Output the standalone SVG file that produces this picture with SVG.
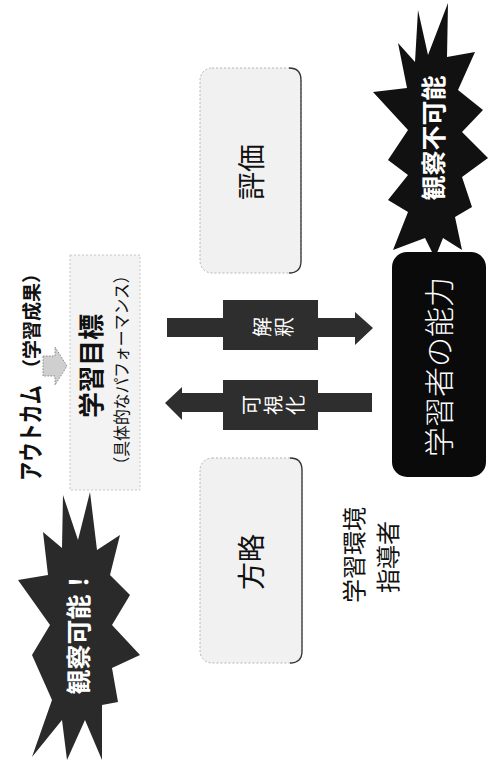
<svg xmlns="http://www.w3.org/2000/svg" width="489" height="764" viewBox="0 0 489 764">
<style>
text{font-family:"Noto Sans CJK JP","Noto Sans CJK SC",sans-serif;text-anchor:middle;dominant-baseline:central}
.box{fill:#f1f1f1;stroke:#b5b5b5;stroke-width:1;stroke-dasharray:2 2}
.edge{fill:none;stroke:#333;stroke-width:1.3}
.lbl{font-size:28px;fill:#111}
.arrow{fill:#2e2e2e}
.alab{font-size:20px;fill:#fff}
.burst-t{font-size:25px;font-weight:700;fill:#fff}
</style>
<rect width="489" height="764" fill="#fff"/>

<g id="burst-top">
<polygon fill="#111" points="418,10 428,55 448,3 447,57 475,52 458,90 483,110 462,132 488,158 462,177 472,207 455,217 462,250 443,238 435,258 425,238 393,250 408,212 388,200 408,175 388,160 408,130 373,92 407,88 398,43 415,62"/>
<text class="burst-t" transform="translate(432,138) rotate(-90)">観察不可能</text>
</g>

<g id="hyoka">
<rect class="box" x="200" y="68" width="101" height="205" rx="12"/>
<path class="edge" d="M289,68 Q301,68 301,80 V261 Q301,273 289,273"/>
<text class="lbl" transform="translate(250,172) rotate(-90)">評価</text>
</g>

<g id="houryaku">
<rect class="box" x="200" y="458" width="102" height="205" rx="12"/>
<path class="edge" d="M290,458 Q302,458 302,470 V651 Q302,663 290,663"/>
<text class="lbl" transform="translate(250,562) rotate(-90)">方略</text>
</g>

<g id="learner">
<rect x="392" y="252" width="94" height="225" rx="15" fill="#0a0a0a"/>
<text transform="translate(437,367) rotate(-90)" font-size="30" font-weight="300" fill="#fff">学習者の能力</text>
</g>

<g id="outcome">
<rect x="70" y="255" width="70" height="235" fill="#f3f3f3" stroke="#c8c8c8" stroke-dasharray="2 2"/>
<text transform="translate(29,433) rotate(-90)" font-size="25" font-weight="700" fill="#111" textLength="96" lengthAdjust="spacingAndGlyphs">アウトカム</text>
<text transform="translate(30,321) rotate(-90)" font-size="19" font-weight="700" fill="#111">（学習成果）</text>
<polygon points="43,356 55,356 55,347 67,366 55,385 55,376 43,376" fill="#cfcfcf" stroke="#888" stroke-width="1" stroke-dasharray="1.5 1.5"/>
<text transform="translate(89,366) rotate(-90)" font-size="26" font-weight="700" fill="#111">学習目標</text>
<text transform="translate(120,370) rotate(-90)" font-size="17" fill="#111" textLength="205" lengthAdjust="spacingAndGlyphs">（具体的なパフォーマンス）</text>
</g>

<g id="burst-bottom">
<polygon fill="#2a2a2a" points="63,495 78,540 90,492 97,550 120,535 110,575 130,595 112,625 140,655 112,668 118,702 102,705 102,760 85,720 67,760 62,720 32,757 52,700 32,655 50,625 18,580 48,575 43,532 62,548"/>
<text class="burst-t" font-size="24" transform="translate(77,632) rotate(-90)">観察可能！</text>
</g>

<g id="environment">
<text transform="translate(352,555) rotate(-90)" font-size="24" fill="#111">学習環境</text>
<text transform="translate(386,557) rotate(-90)" font-size="24" fill="#111">指導者</text>
</g>

<g id="connectors">
<g id="arrow-kaishaku">
<polygon class="arrow" points="167,318 355,318 355,312 373,328 355,345 355,337 167,337"/>
<rect class="arrow" x="223" y="300" width="95" height="50"/>
<text class="alab" transform="translate(261,327) rotate(-90)">解</text>
<text class="alab" transform="translate(283,327) rotate(-90)">釈</text>
</g>
<g id="arrow-kashika">
<polygon class="arrow" points="372,393 182,393 182,387 165,403 182,420 182,412 372,412"/>
<rect class="arrow" x="223" y="380" width="95" height="50"/>
<text class="alab" transform="translate(250,405) rotate(-90)">可</text>
<text class="alab" transform="translate(272,405) rotate(-90)">視</text>
<text class="alab" transform="translate(294,405) rotate(-90)">化</text>
</g>
</g>
</svg>
